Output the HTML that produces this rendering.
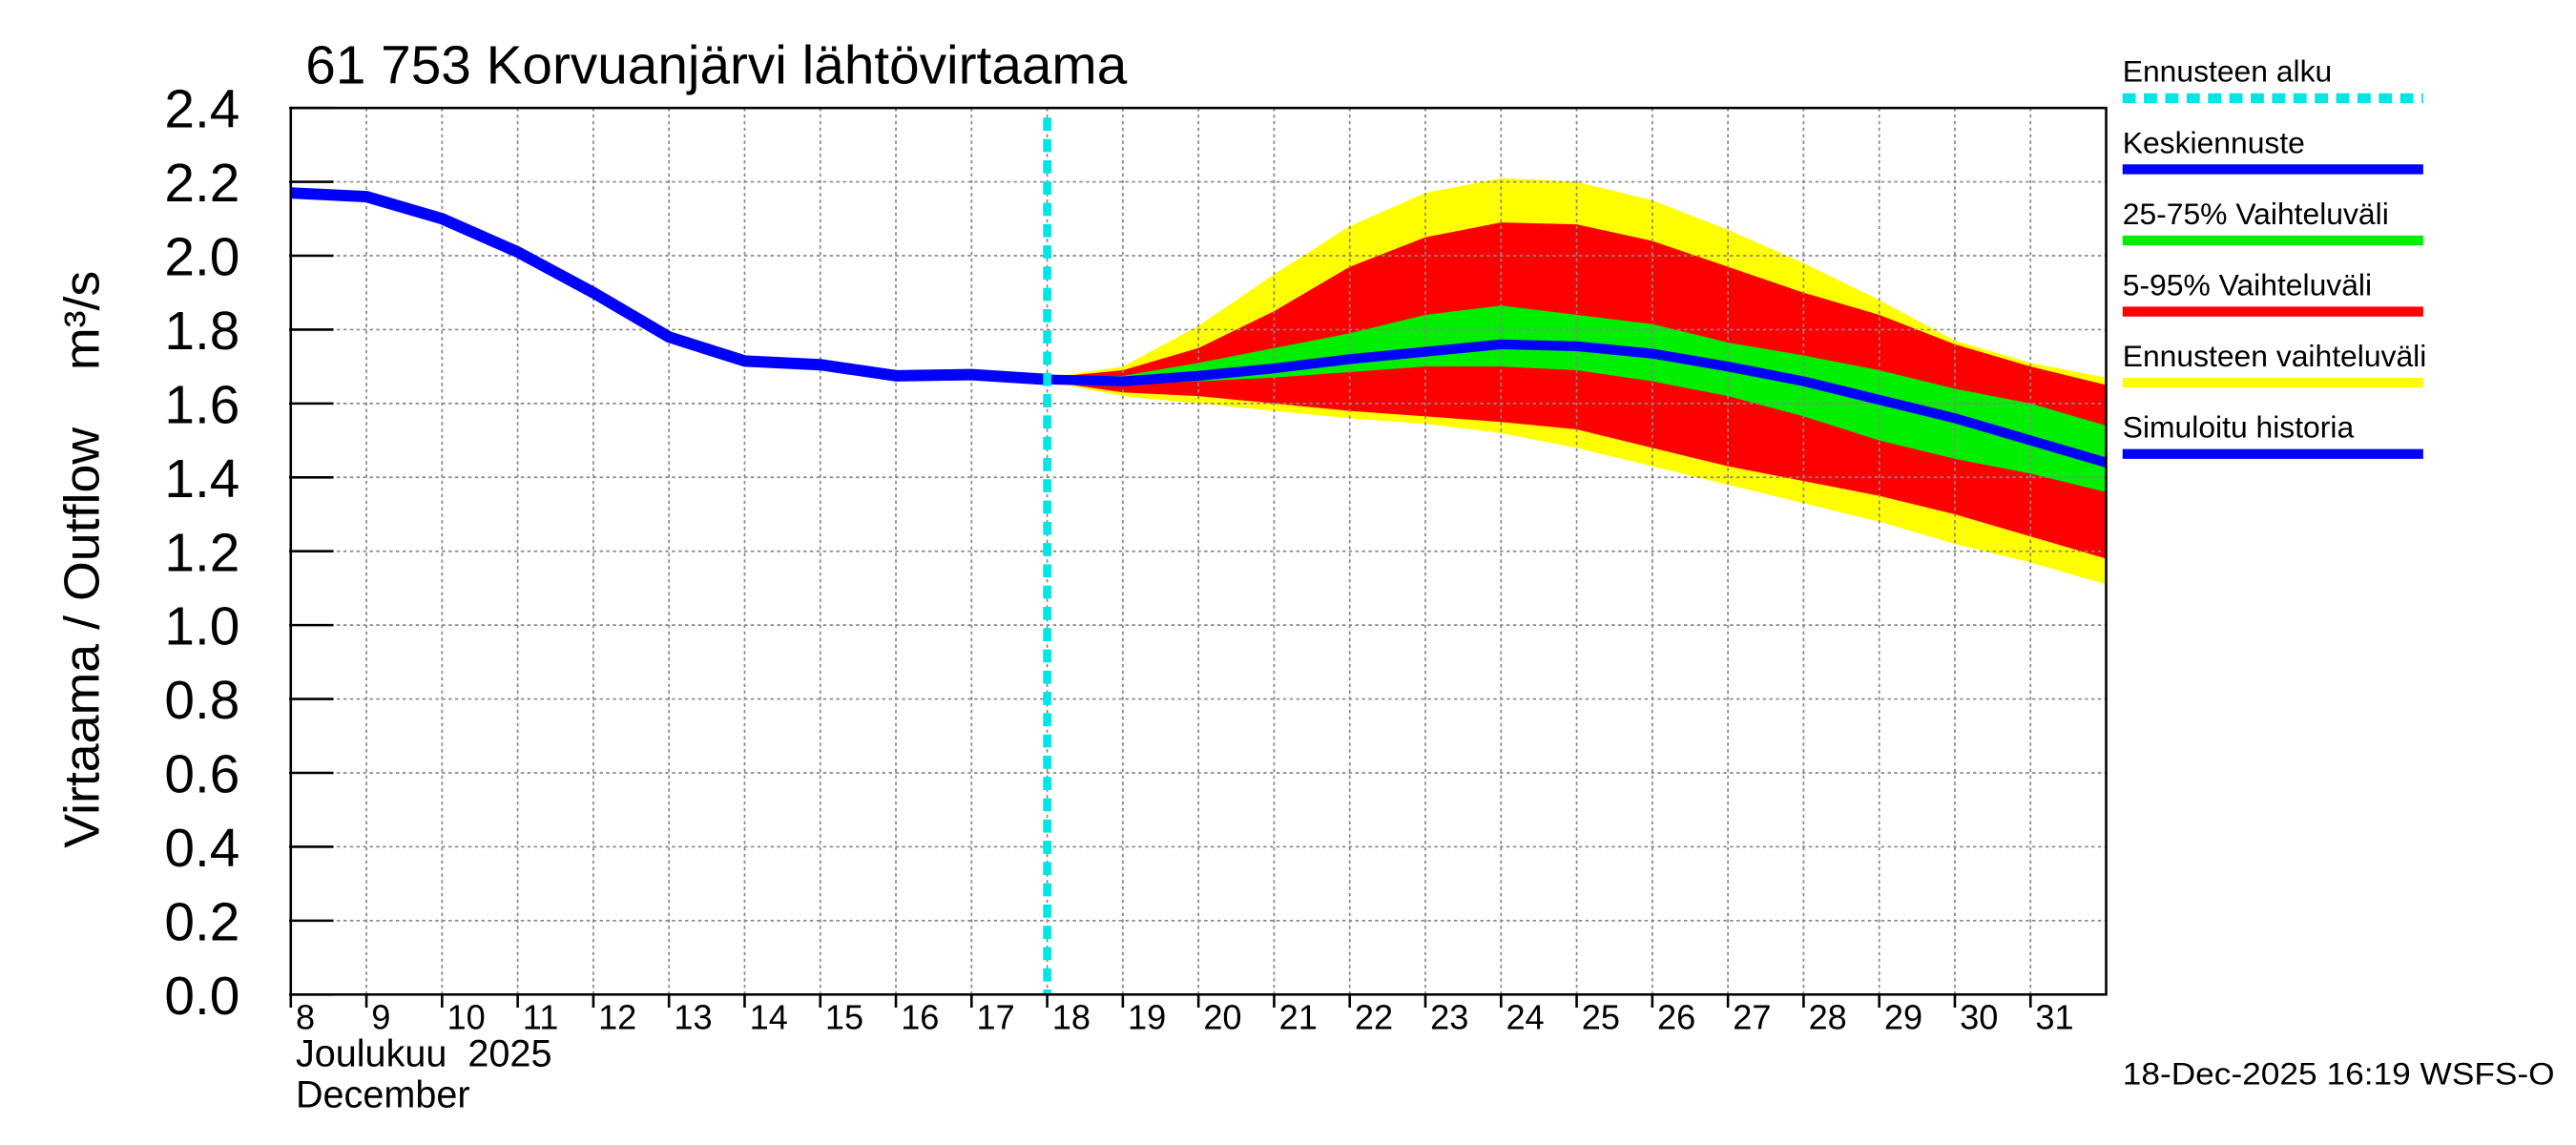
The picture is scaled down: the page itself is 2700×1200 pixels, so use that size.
<!DOCTYPE html>
<html><head><meta charset="utf-8"><style>
html,body{margin:0;padding:0;background:#fff;}
svg{display:block;font-family:"Liberation Sans",sans-serif;}
text{white-space:pre;}
</style></head><body>
<svg id="chart" width="2700" height="1200" viewBox="0 0 1568 700" preserveAspectRatio="none" xmlns="http://www.w3.org/2000/svg">
<rect width="1568" height="700" fill="#fff"/>
<g id="bands"></g>
<g id="grid"></g>
<g id="lines"></g>
<g id="axes"></g>
<text x="186" y="51" font-size="33" textLength="500" lengthAdjust="spacingAndGlyphs">61 753 Korvuanjärvi lähtövirtaama</text>
<text transform="translate(60,342) rotate(-90)" text-anchor="middle" font-size="30" textLength="353" lengthAdjust="spacingAndGlyphs">Virtaama / Outflow    m³/s</text>
<text x="180" y="652" font-size="23">Joulukuu  2025</text>
<text x="180" y="677" font-size="23">December</text>
<text x="1292" y="663" font-size="19" textLength="263" lengthAdjust="spacingAndGlyphs">18-Dec-2025 16:19 WSFS-O</text>
<g id="legend"></g>
</svg>
<script>
const yTicks=[0,0.2,0.4,0.6,0.8,1.0,1.2,1.4,1.6,1.8,2.0,2.2,2.4];
const dayLabels=[8,9,10,11,12,13,14,15,16,17,18,19,20,21,22,23,24,25,26,27,28,29,30,31];
const histDays=[8,9,10,11,12,13,14,15,16,17,18];
const histValues=[2.17,2.16,2.10,2.01,1.90,1.78,1.715,1.705,1.675,1.678,1.665];
const fcDays=[18,19,20,21,22,23,24,25,26,27,28,29,30,31,32];
const meanValues=[1.665,1.66,1.675,1.695,1.72,1.74,1.76,1.755,1.735,1.70,1.66,1.61,1.56,1.50,1.44];
const yellowUpper=[1.67,1.70,1.81,1.95,2.08,2.17,2.21,2.20,2.15,2.07,1.98,1.88,1.77,1.71,1.67];
const yellowLower=[1.66,1.62,1.60,1.58,1.56,1.545,1.52,1.48,1.43,1.38,1.33,1.28,1.22,1.17,1.11];
const redUpper=[1.67,1.69,1.75,1.85,1.97,2.05,2.09,2.085,2.04,1.97,1.90,1.84,1.76,1.70,1.65];
const redLower=[1.66,1.63,1.62,1.60,1.58,1.565,1.55,1.53,1.48,1.43,1.39,1.35,1.30,1.24,1.18];
const greenUpper=[1.67,1.675,1.71,1.75,1.79,1.84,1.865,1.84,1.815,1.765,1.73,1.69,1.64,1.60,1.54];
const greenLower=[1.665,1.65,1.66,1.67,1.685,1.70,1.70,1.69,1.66,1.62,1.565,1.50,1.45,1.41,1.36];
const forecastStart=18;
const X0=177,X1=1282,Y0=608,Y1=66,D0=8,D1=32;
const NS='http://www.w3.org/2000/svg';
function x(d){return X0+(d-D0)/(D1-D0)*(X1-X0);}
function y(v){return Y0-v/2.4*(Y0-Y1);}
function mk(tag,attrs,parent){const e=document.createElementNS(NS,tag);for(const k in attrs)e.setAttribute(k,attrs[k]);parent.appendChild(e);return e;}
const bands=document.getElementById('bands'),grid=document.getElementById('grid'),lines=document.getElementById('lines'),axes=document.getElementById('axes'),legend=document.getElementById('legend');
function band(up,lo,color,name){
  let p=fcDays.map((d,i)=>x(d)+','+y(up[i])).join(' ')+' '+fcDays.slice().reverse().map((d,j)=>{const i=fcDays.length-1-j;return x(d)+','+y(lo[i]);}).join(' ');
  const e=mk('polygon',{points:p,fill:color},bands);
  
  
}
band(yellowUpper,yellowLower,'#ffff00','band-ensemble-range');
band(redUpper,redLower,'#ff0000','band-5-95');
band(greenUpper,greenLower,'#00ee00','band-25-75');
yTicks.forEach(v=>{
  if(v>0&&v<2.4){const g=mk('line',{x1:X0,x2:X1,y1:y(v),y2:y(v),stroke:'#888','stroke-dasharray':'2,2','stroke-width':1},grid);
  }
  const t=mk('line',{x1:X0-1,x2:X0+26,y1:y(v),y2:y(v),stroke:'#000','stroke-width':1.5},axes);
  
  const l=mk('text',{x:X0-31,y:y(v)+12,'text-anchor':'end','font-size':33},axes);l.textContent=v.toFixed(1);
  
});
dayLabels.forEach(d=>{
  if(d>D0){const g=mk('line',{x1:x(d),x2:x(d),y1:Y1,y2:Y0,stroke:'#888','stroke-dasharray':'2,2','stroke-width':1},grid);
  }
  const t=mk('line',{x1:x(d),x2:x(d),y1:Y0,y2:Y0+8,stroke:'#000','stroke-width':1.5},axes);
  
  const l=mk('text',{x:x(d)+3,y:Y0+21,'font-size':21},axes);l.textContent=d;
  
});
const fr=mk('rect',{x:X0,y:Y1,width:X1-X0,height:Y0-Y1,fill:'none',stroke:'#000','stroke-width':1.5},axes);

function poly(ds,vs,color,w,name){const e=mk('polyline',{points:ds.map((d,i)=>x(d)+','+y(vs[i])).join(' '),fill:'none',stroke:color,'stroke-width':w,'stroke-linejoin':'round'},lines);
  }
poly(histDays,histValues,'#0000ff',7,'simulated-history-line');
poly(fcDays,meanValues,'#0000ff',6,'mean-forecast-line');
const fs=mk('line',{x1:x(forecastStart),x2:x(forecastStart),y1:Y1+6,y2:Y0,stroke:'#00e5e5','stroke-width':5,'stroke-dasharray':'8,5'},lines);

const legItems=[['Ennusteen alku','#00e5e5',true],['Keskiennuste','#0000ff',false],['25-75% Vaihteluväli','#00ee00',false],['5-95% Vaihteluväli','#ff0000',false],['Ennusteen vaihteluväli','#ffff00',false],['Simuloitu historia','#0000ff',false]];
legItems.forEach((it,i)=>{
  const yy=58+i*43.5;
  const t=mk('text',{x:1292,y:yy-8,'font-size':18.5},legend);t.textContent=it[0];
  
  const attrs={x1:1292,x2:1475,y1:yy+2,y2:yy+2,stroke:it[1],'stroke-width':6};
  if(it[2])attrs['stroke-dasharray']='8,5';
  const l=mk('line',attrs,legend);
  
});
</script>
</body></html>
